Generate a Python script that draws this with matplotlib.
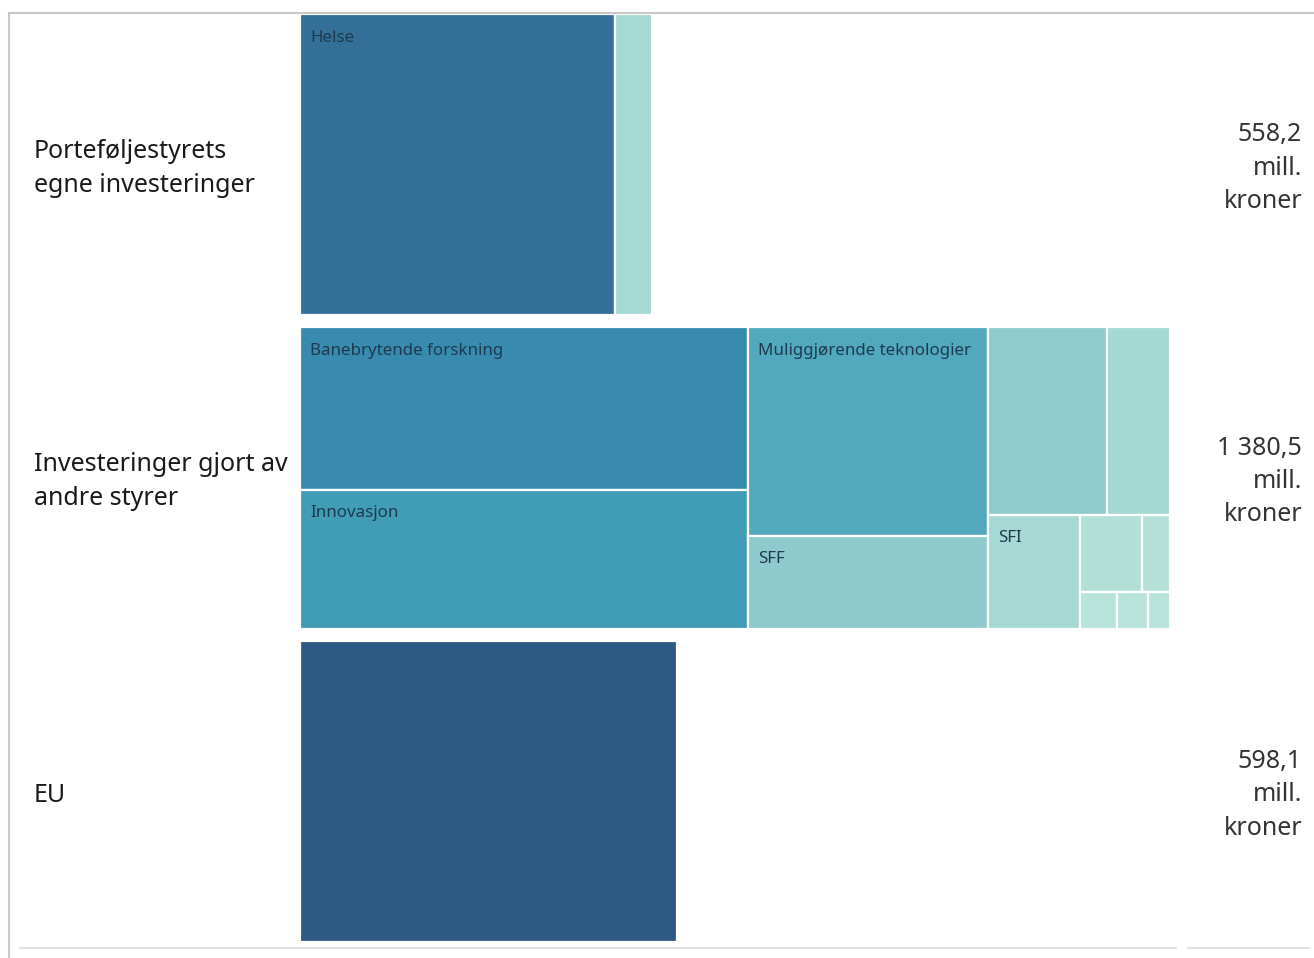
import matplotlib
matplotlib.use('Agg')
import matplotlib.pyplot as plt
from matplotlib.patches import Rectangle
from matplotlib.lines import Line2D
from matplotlib.transforms import blended_transform_factory

plt.rcParams['font.family'] = ['Noto Sans', 'DejaVu Sans']

# Grupper (rader) og verdier i mill. kroner
groups = ['Porteføljestyrets\negne investeringer', 'Investeringer gjort av\nandre styrer', 'EU']

vals_portefolje = [500.0, 58.2]
vals_andre = [382.6, 328.3, 263.2, 117.7, 117.3, 62.1, 55.3, 25.2, 11.4, 7.2, 5.9, 4.3]
vals_eu = [598.1]

labels_portefolje = ['Helse', '']
labels_andre = ['Banebrytende forskning', 'Innovasjon', 'Muliggjørende teknologier', 'SFF',
                '', '', 'SFI', '', '', '', '', '']
labels_eu = ['']

colors_portefolje = ['#336f96', '#a5d9d3']
colors_andre = ['#388bae', '#419cb5', '#52a9bd', '#8ecacd', '#8fcbce', '#a3d8d3',
                '#a6d9d4', '#b2e0d7', '#b5e1d9', '#b8e3da', '#b8e3da', '#b8e3da']
colors_eu = ['#2d5a85']

# antall ruter i hver stripe (treemap-oppdeling)
strips_portefolje = [1, 1]
strips_andre = [2, 2, 2, 1, 2, 1, 1, 1]
strips_eu = [1]

all_vals = [vals_portefolje, vals_andre, vals_eu]
all_labels = [labels_portefolje, labels_andre, labels_eu]
all_colors = [colors_portefolje, colors_andre, colors_eu]
all_strips = [strips_portefolje, strips_andre, strips_eu]


def fmt_total(v):
    s = f'{v:,.1f}'.replace(',', ' ').replace('.', ',')
    return s + '\nmill.\nkroner'


def strip_layout(values, counts, x, y, w, h, sx, sy):
    rects = []
    i = 0
    for n in counts:
        chunk = values[i:i + n]
        frac = sum(chunk) / sum(values[i:])
        i += n
        if w * sx >= h * sy:
            sw = w * frac
            yy = y
            for v in chunk:
                hh = h * v / sum(chunk)
                rects.append((x, yy, sw, hh))
                yy += hh
            x += sw
            w -= sw
        else:
            sh = h * frac
            xx = x
            for v in chunk:
                ww = w * v / sum(chunk)
                rects.append((xx, y, ww, sh))
                xx += ww
            y += sh
            h -= sh
    return rects


W, H = 1314, 958
fig = plt.figure(figsize=(W / 100, H / 100), dpi=100)
ax = fig.add_axes([300 / W, 16 / H, 870 / W, 928 / H])
ax.axis('off')

gap = 12 / 301
max_total = max(sum(v) for v in all_vals)
y_range = 3 + 2 * gap
ax.set_xlim(0, max_total)
ax.set_ylim(y_range, 0)
sx = 870 / max_total
sy = 928 / y_range

trans = blended_transform_factory(fig.transFigure, ax.transData)

for k, (vals, labs, cols, strips) in enumerate(zip(all_vals, all_labels, all_colors, all_strips)):
    y0 = k * (1 + gap)
    total = sum(vals)
    rects = strip_layout(vals, strips, 0, y0, total, 1.0, sx, sy)
    for (rx, ry, rw, rh), lab, col in zip(rects, labs, cols):
        ax.add_patch(Rectangle((rx, ry), rw, rh, facecolor=col, edgecolor='white', linewidth=1.6))
        if lab:
            ax.annotate(lab, xy=(rx, ry), xytext=(10, -15.5), textcoords='offset pixels',
                        ha='left', va='top', fontsize=12.2, color='#1e3a4f')
    ax.text(34 / W, y0 + 0.513, groups[k], transform=trans, ha='left', va='center',
            fontsize=18, color='#1a1a1a', linespacing=1.47)
    ax.text(1302 / W, y0 + 0.512, fmt_total(total), transform=trans, ha='right', va='center',
            fontsize=18, color='#333333', linespacing=1.44)

# ramme
fig.add_artist(Line2D([9 / W, 1], [1 - 13 / H, 1 - 13 / H], color='#c8c8c8', lw=1.5))
fig.add_artist(Line2D([9 / W, 9 / W], [0, 1 - 13 / H], color='#c8c8c8', lw=1.5))
fig.add_artist(Line2D([20 / W, 1176 / W], [1 - 948 / H, 1 - 948 / H], color='#dadada', lw=1.2))
fig.add_artist(Line2D([1188 / W, 1309 / W], [1 - 948 / H, 1 - 948 / H], color='#dadada', lw=1.2))

fig.savefig('out.png', dpi=100)
